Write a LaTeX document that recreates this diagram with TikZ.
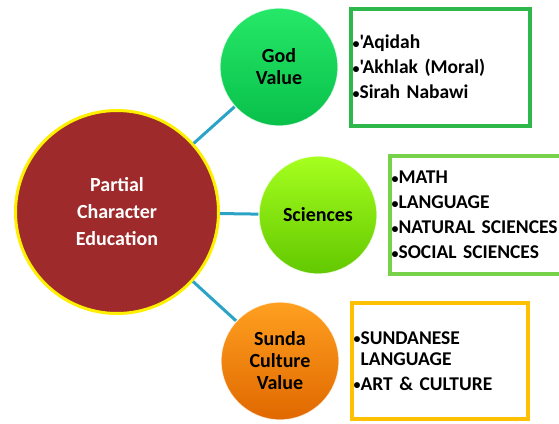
\documentclass[tikz,border=0pt]{standalone}
\usepackage{fontspec}
\setmainfont{Carlito}[Ligatures=TeXOff]
\usetikzlibrary{positioning}

\definecolor{hubred}{HTML}{9E2A2B}
\definecolor{hubrim}{HTML}{FFEF00}
\definecolor{linkblue}{HTML}{2AA3C6}
\definecolor{godtop}{HTML}{26E868}
\definecolor{godbot}{HTML}{08C04A}
\definecolor{scitop}{HTML}{A6FF1E}
\definecolor{scibot}{HTML}{62C800}
\definecolor{sundatop}{HTML}{FFA020}
\definecolor{sundabot}{HTML}{E06800}
\definecolor{godline}{HTML}{2EB84C}
\definecolor{sciline}{HTML}{77D24A}
\definecolor{sundaline}{HTML}{FFC000}

% small bullet
\newcommand{\itemdot}{{\fontsize{14}{14}\selectfont\raisebox{0.5pt}{•}}}

\tikzset{
  hub/.style={circle, draw=hubrim, line width=3pt, fill=hubred, minimum size=203pt,
    text=white, align=center, font=\bfseries\fontsize{20}{27}\selectfont},
  topic/.style n args={2}{circle, minimum size=118pt, draw=white, draw opacity=0.8,
    line width=1.2pt, top color=#1, bottom color=#2, align=center,
    font=\bfseries\fontsize{20}{22}\selectfont},
  itembox/.style n args={3}{rectangle, draw=#1, line width=4pt, fill=white,
    minimum width=#2, minimum height=#3, text width=#2-4pt, inner xsep=2pt,
    align=left, font=\bfseries\fontsize{19.5}{25}\selectfont},
  link/.style={draw=linkblue, line width=3pt}
}

\begin{document}
\begin{tikzpicture}[x=1pt, y=-1pt]
  \useasboundingbox (0,0) rectangle (559,423);

  % centre and the three values
  \node[hub] (pce) at (117,212) {Partial\\Character\\Education};
  \node[topic={godtop}{godbot}] (god) at (279,67) {God\\Value};
  \node[topic={scitop}{scibot}] (sci) at (318,215) {Sciences};
  \node[topic={sundatop}{sundabot}] (sunda) at (280,361) {Sunda\\Culture\\Value};

  \draw[link] (pce) -- (god);
  \draw[link] (pce) -- (sci);
  \draw[link] (pce) -- (sunda);

  % contents
  \node[itembox={godline}{179pt}{117pt}, right=10pt of god] (godlist)
    {\itemdot'Aqidah\\\itemdot'Akhlak (Moral)\\\itemdot Sirah Nabawi};
  \node[itembox={sciline}{190pt}{118pt}, right=10pt of sci] (scilist)
    {\itemdot MATH\\\itemdot LANGUAGE\\\itemdot NATURAL SCIENCES\\\itemdot SOCIAL SCIENCES};
  \node[itembox={sundaline}{176pt}{116pt}, right=10pt of sunda] (sundalist)
    {\itemdot SUNDANESE\\[-4pt]\hphantom{\itemdot}LANGUAGE\\\itemdot ART \& CULTURE};
\end{tikzpicture}
\end{document}
